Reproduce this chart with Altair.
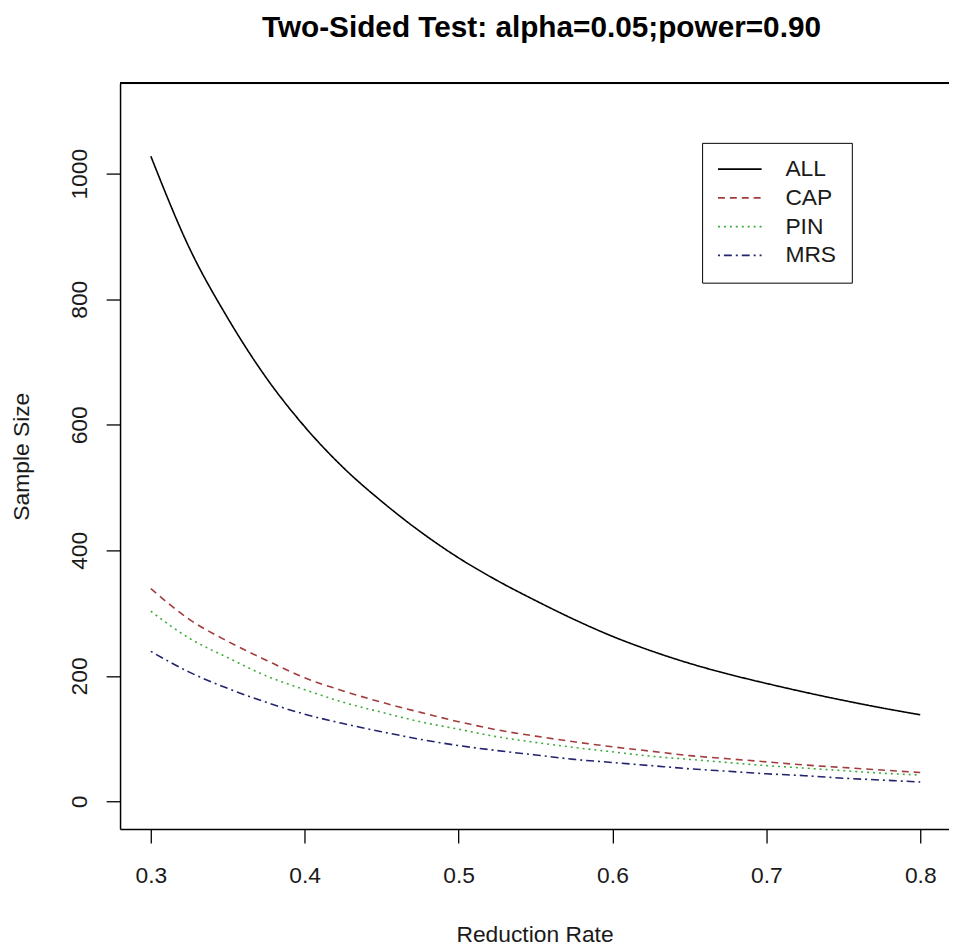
import altair as alt
import pandas as pd

# Reduction rate (x) and sample sizes
rate = [0.300, 0.325, 0.350, 0.375, 0.400, 0.425, 0.450, 0.475, 0.500, 0.525,
        0.550, 0.575, 0.600, 0.625, 0.650, 0.675, 0.700, 0.725, 0.750, 0.775, 0.800]
all_n = [1028, 882, 770, 675, 597, 532, 478, 430, 388, 352,
         320, 290, 263, 240, 220, 203, 188, 174, 161, 149, 138]
cap_n = [339, 290, 255, 225, 197, 176, 158, 142, 127, 114,
         104, 95, 87, 80, 73, 68, 63, 58, 54, 50, 46]
pin_n = [303, 260, 229, 200, 178, 158, 142, 127, 115, 103,
         94, 86, 79, 72, 67, 62, 57, 53, 49, 45, 42]
mrs_n = [239, 206, 180, 158, 139, 124, 111, 99, 89, 81,
         74, 67, 62, 57, 52, 48, 44, 41, 37, 34, 31]

groups = ["ALL", "CAP", "PIN", "MRS"]
colors = ["#000000", "#a33c3c", "#3caa3c", "#23236e"]
dashes = [[1, 0], [7, 5], [2, 4], [2, 4, 8, 4]]

x_ticks = [0.3, 0.4, 0.5, 0.6, 0.7, 0.8]
y_ticks = [0, 200, 400, 600, 800, 1000]
x_domain = [0.28, 0.8187]
y_domain = [-44, 1144]

rows = []
for g, vals in zip(groups, [all_n, cap_n, pin_n, mrs_n]):
    for r, v in zip(rate, vals):
        rows.append({"rate": r, "n": v, "group": g})
df = pd.DataFrame(rows)

FONT = "Liberation Sans"
TXT = "#1a1a1a"

x_scale = alt.Scale(domain=x_domain, nice=False, zero=False)
y_scale = alt.Scale(domain=y_domain, nice=False, zero=False)

legend = alt.Legend(
    title=None,
    orient="none",
    legendX=587,
    legendY=60,
    strokeColor="#000000",
    fillColor="#ffffff",
    padding=15,
    symbolType="stroke",
    symbolSize=1936,
    symbolStrokeWidth=1.6,
    labelFont=FONT,
    labelFontSize=23,
    labelColor=TXT,
    labelOffset=23,
    clipHeight=23,
    rowPadding=5,
)

lines = alt.Chart(df).mark_line(strokeWidth=1.6, interpolate="monotone").encode(
    x=alt.X(
        "rate:Q",
        scale=x_scale,
        axis=alt.Axis(
            values=x_ticks,
            format=".1f",
            title="Reduction Rate",
            titleFont=FONT,
            titleFontSize=23,
            titleFontWeight="normal",
            titleColor=TXT,
            titleY=113,
            titleBaseline="alphabetic",
            labelFont=FONT,
            labelFontSize=23,
            labelColor=TXT,
            labelPadding=22,
            labelBaseline="top",
            tickSize=14,
            tickColor="#000000",
            tickWidth=1.3,
            domainColor="#000000",
            domainWidth=1.5,
            grid=False,
        ),
    ),
    y=alt.Y(
        "n:Q",
        scale=y_scale,
        axis=alt.Axis(
            values=y_ticks,
            format="d",
            title="Sample Size",
            titleFont=FONT,
            titleFontSize=23,
            titleFontWeight="normal",
            titleColor=TXT,
            titleAngle=270,
            titleX=-92,
            titleY=376,
            titleAlign="center",
            titleBaseline="alphabetic",
            labelFont=FONT,
            labelFontSize=23,
            labelColor=TXT,
            labelAngle=270,
            labelAlign="center",
            labelBaseline="alphabetic",
            labelPadding=20,
            tickSize=14,
            tickColor="#000000",
            tickWidth=1.3,
            domainColor="#000000",
            domainWidth=1.5,
            grid=False,
        ),
    ),
    color=alt.Color("group:N", scale=alt.Scale(domain=groups, range=colors), legend=legend),
    strokeDash=alt.StrokeDash("group:N", scale=alt.Scale(domain=groups, range=dashes), legend=legend),
)

top_frame = alt.Chart(df).mark_rule(color="#000000", strokeWidth=1.5).encode(
    y=alt.datum(y_domain[1])
)

chart = alt.layer(lines, top_frame).properties(
    width=836,
    height=752,
    autosize=alt.AutoSizeParams(type="none"),
    padding={"left": 113, "top": 72, "right": 0, "bottom": 118},
    title=alt.TitleParams(
        text="Two-Sided Test: alpha=0.05;power=0.90",
        font=FONT,
        fontSize=30,
        fontWeight="bold",
        color="#000000",
        anchor="middle",
        baseline="alphabetic",
        offset=16,
        dx=7,
    ),
).configure_view(strokeWidth=0).configure(background="#ffffff")

chart.save("out.html", embed_options={"renderer": "svg", "actions": False})
